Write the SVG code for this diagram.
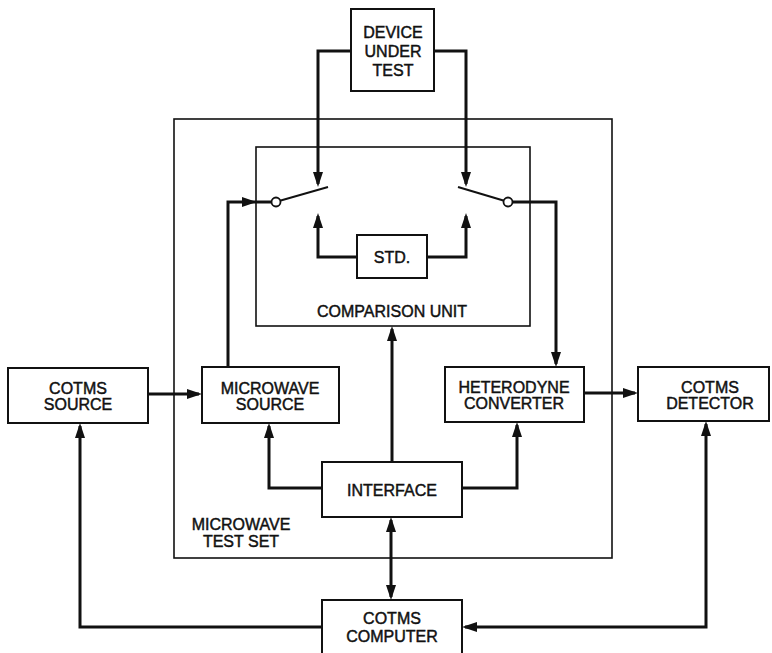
<svg xmlns="http://www.w3.org/2000/svg" width="772" height="653" viewBox="0 0 772 653">
<style>
.box{fill:#fff;stroke:#111;stroke-width:2}
.frame{fill:none;stroke:#111;stroke-width:1.6}
.w{fill:none;stroke:#111;stroke-width:3}
.lev{fill:none;stroke:#111;stroke-width:2}
.pin{fill:#fff;stroke:#111;stroke-width:1.8}
text{font-family:"Liberation Sans",Arial,sans-serif;font-size:16px;fill:#111;stroke:#111;stroke-width:0.45;text-anchor:middle}
.a{marker-end:url(#ah)}
.b{marker-start:url(#ah);marker-end:url(#ah)}
</style>
<defs>
<marker id="ah" markerUnits="userSpaceOnUse" markerWidth="15" markerHeight="10" refX="12" refY="5" orient="auto-start-reverse">
<path d="M0,0 L15,5 L0,10 z" fill="#111"/>
</marker>
</defs>
<rect width="772" height="653" fill="#fff"/>
<g id="test-set">
<rect class="frame" x="174" y="119" width="438" height="439"/>
<text x="241" y="530">MICROWAVE</text>
<text x="241" y="547">TEST SET</text>
</g>
<g id="comparison-unit">
<rect class="frame" x="256" y="147" width="274" height="179" stroke-width="2"/>
<text x="392" y="317">COMPARISON UNIT</text>
</g>
<g id="connectors">
<path class="w a" d="M351,51 H318 V184"/>
<path class="w a" d="M434,51 H466 V184"/>
<path class="w a" d="M357,257 H318 V216"/>
<path class="w a" d="M427,257 H466 V216"/>
<path class="w a" d="M228,367 V202 H254"/>
<path class="w" d="M254,202 H272"/>
<path class="w a" d="M512,202 H556 V364"/>
<path class="w a" d="M148,394 H199"/>
<path class="w a" d="M322,488 H269 V426"/>
<path class="w a" d="M392,462 V329"/>
<path class="w a" d="M462,488 H517 V425"/>
<path class="w a" d="M584,393 H635"/>
<path class="w b" d="M391,520 V597"/>
<path class="w a" d="M322,627 H80 V426"/>
<path class="w b" d="M465,627 H706 V424"/>
<path class="lev" d="M279,201 L328,187"/>
<path class="lev" d="M458,187 L505,201"/>
<circle class="pin" cx="276" cy="202" r="4.5"/>
<circle class="pin" cx="508" cy="202" r="4.5"/>
</g>
<g id="dut">
<rect class="box" x="351" y="9" width="83" height="82"/>
<text x="393" y="38">DEVICE</text>
<text x="393" y="57">UNDER</text>
<text x="393" y="76">TEST</text>
</g>
<g id="std">
<rect class="box" x="357" y="235" width="70" height="43"/>
<text x="392" y="263">STD.</text>
</g>
<g id="cotms-source">
<rect class="box" x="8" y="368" width="140" height="55"/>
<text x="78" y="394">COTMS</text>
<text x="78" y="410">SOURCE</text>
</g>
<g id="microwave-source">
<rect class="box" x="202" y="367" width="137" height="56"/>
<text x="270" y="394">MICROWAVE</text>
<text x="270" y="410">SOURCE</text>
</g>
<g id="heterodyne-converter">
<rect class="box" x="445" y="367" width="139" height="55"/>
<text x="514" y="393">HETERODYNE</text>
<text x="514" y="409">CONVERTER</text>
</g>
<g id="cotms-detector">
<rect class="box" x="638" y="367" width="131" height="54"/>
<text x="710" y="393">COTMS</text>
<text x="710" y="409">DETECTOR</text>
</g>
<g id="interface">
<rect class="box" x="322" y="462" width="140" height="55"/>
<text x="392" y="496">INTERFACE</text>
</g>
<g id="cotms-computer">
<rect class="box" x="322" y="600" width="140" height="62"/>
<text x="392" y="624">COTMS</text>
<text x="392" y="642">COMPUTER</text>
</g>
</svg>
